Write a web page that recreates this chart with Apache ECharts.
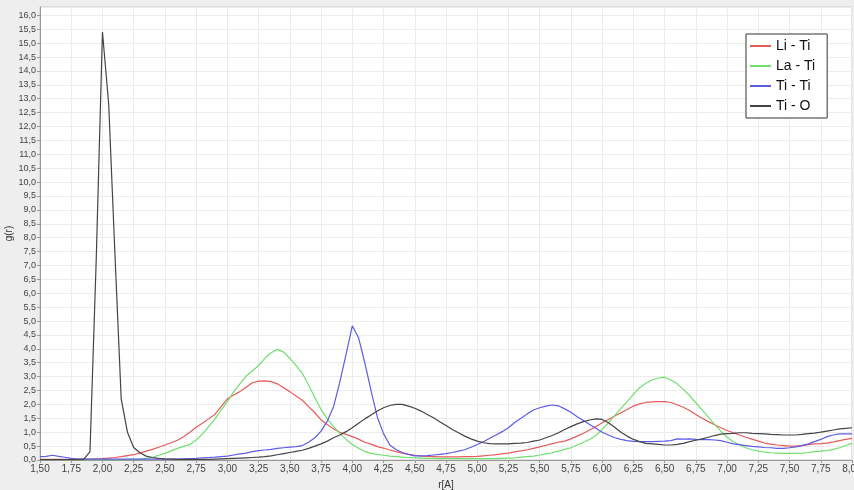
<!DOCTYPE html>
<html>
<head>
<meta charset="utf-8">
<script src="https://cdn.jsdelivr.net/npm/echarts@6/dist/echarts.min.js"></script>
<style>
html,body{margin:0;padding:0;background:#eeeeee;}
#chart{width:854px;height:490px;}
</style>
</head>
<body>
<div id="chart"></div>
<script>
const seriesNames = ['Li - Ti', 'La - Ti', 'Ti - Ti', 'Ti - O'];

const rValues = [
1.50,1.55,1.60,1.65,1.70,1.75,1.80,1.85,1.90,1.95,
2.00,2.05,2.10,2.15,2.20,2.25,2.30,2.35,2.40,2.45,
2.50,2.55,2.60,2.65,2.70,2.75,2.80,2.85,2.90,2.95,
3.00,3.05,3.10,3.15,3.20,3.25,3.30,3.35,3.40,3.45,
3.50,3.55,3.60,3.65,3.70,3.75,3.80,3.85,3.90,3.95,
4.00,4.05,4.10,4.15,4.20,4.25,4.30,4.35,4.40,4.45,
4.50,4.55,4.60,4.65,4.70,4.75,4.80,4.85,4.90,4.95,
5.00,5.05,5.10,5.15,5.20,5.25,5.30,5.35,5.40,5.45,
5.50,5.55,5.60,5.65,5.70,5.75,5.80,5.85,5.90,5.95,
6.00,6.05,6.10,6.15,6.20,6.25,6.30,6.35,6.40,6.45,
6.50,6.55,6.60,6.65,6.70,6.75,6.80,6.85,6.90,6.95,
7.00,7.05,7.10,7.15,7.20,7.25,7.30,7.35,7.40,7.45,
7.50,7.55,7.60,7.65,7.70,7.75,7.80,7.85,7.90,7.95,
8.00];

const liTi = [
0.02,0.02,0.02,0.02,0.02,0.02,0.03,0.03,0.03,0.04,
0.05,0.07,0.09,0.12,0.16,0.19,0.25,0.32,0.38,0.46,
0.54,0.62,0.71,0.84,1.00,1.18,1.32,1.48,1.64,1.92,
2.20,2.34,2.46,2.62,2.78,2.84,2.85,2.82,2.74,2.60,
2.46,2.30,2.15,1.92,1.70,1.44,1.28,1.12,1.00,0.92,
0.84,0.75,0.64,0.57,0.48,0.43,0.36,0.30,0.25,0.20,
0.17,0.14,0.13,0.12,0.11,0.11,0.11,0.11,0.12,0.12,
0.13,0.15,0.17,0.19,0.22,0.25,0.29,0.33,0.37,0.42,
0.47,0.53,0.59,0.64,0.68,0.76,0.86,0.96,1.08,1.20,
1.34,1.46,1.58,1.70,1.82,1.94,2.02,2.07,2.09,2.10,
2.10,2.07,1.99,1.90,1.78,1.64,1.50,1.38,1.27,1.16,
1.06,0.98,0.90,0.82,0.75,0.68,0.61,0.57,0.54,0.52,
0.50,0.50,0.52,0.55,0.58,0.59,0.61,0.65,0.70,0.74,
0.78];

const laTi = [
0.01,0.01,0.01,0.01,0.01,0.01,0.01,0.01,0.01,0.01,
0.01,0.01,0.01,0.01,0.01,0.02,0.03,0.06,0.10,0.17,
0.24,0.33,0.42,0.49,0.56,0.72,0.93,1.20,1.47,1.80,
2.10,2.45,2.74,3.02,3.20,3.40,3.66,3.86,3.98,3.88,
3.66,3.40,3.12,2.70,2.25,1.82,1.48,1.20,0.96,0.74,
0.56,0.42,0.31,0.24,0.20,0.17,0.14,0.12,0.10,0.09,
0.08,0.07,0.06,0.06,0.05,0.05,0.05,0.05,0.05,0.05,
0.05,0.05,0.05,0.05,0.06,0.07,0.08,0.10,0.12,0.14,
0.18,0.22,0.26,0.32,0.38,0.44,0.54,0.64,0.74,0.88,
1.10,1.34,1.60,1.86,2.10,2.36,2.60,2.76,2.88,2.95,
2.98,2.88,2.74,2.54,2.32,2.06,1.80,1.54,1.28,1.04,
0.82,0.66,0.54,0.44,0.37,0.32,0.28,0.26,0.25,0.24,
0.24,0.24,0.25,0.27,0.30,0.32,0.34,0.38,0.44,0.52,
0.60];

const tiTi = [
0.12,0.13,0.17,0.13,0.10,0.06,0.03,0.03,0.03,0.03,
0.03,0.03,0.03,0.03,0.03,0.03,0.03,0.03,0.03,0.03,
0.03,0.03,0.03,0.04,0.05,0.06,0.08,0.09,0.10,0.12,
0.14,0.18,0.22,0.25,0.30,0.34,0.36,0.38,0.42,0.44,
0.46,0.48,0.52,0.64,0.80,1.04,1.40,1.92,2.80,3.80,
4.83,4.40,3.50,2.50,1.55,0.95,0.54,0.38,0.27,0.20,
0.15,0.15,0.16,0.18,0.20,0.23,0.27,0.32,0.37,0.46,
0.56,0.66,0.78,0.90,1.02,1.16,1.35,1.50,1.66,1.80,
1.88,1.94,1.98,1.95,1.84,1.72,1.56,1.42,1.28,1.14,
1.00,0.90,0.80,0.74,0.70,0.67,0.66,0.66,0.66,0.67,
0.68,0.70,0.76,0.75,0.76,0.74,0.73,0.73,0.72,0.70,
0.64,0.58,0.55,0.52,0.49,0.47,0.45,0.44,0.42,0.42,
0.44,0.47,0.52,0.58,0.66,0.74,0.84,0.90,0.94,0.94,
0.94];

const tiO = [
0.01,0.01,0.01,0.01,0.01,0.01,0.01,0.02,0.30,7.20,
15.40,12.80,7.40,2.20,1.00,0.45,0.26,0.14,0.09,0.06,
0.04,0.03,0.02,0.02,0.02,0.02,0.02,0.02,0.03,0.04,
0.05,0.06,0.07,0.08,0.09,0.10,0.12,0.15,0.19,0.23,
0.27,0.31,0.35,0.42,0.50,0.58,0.68,0.80,0.90,1.02,
1.16,1.32,1.48,1.62,1.76,1.88,1.96,2.00,2.00,1.94,
1.86,1.76,1.64,1.52,1.38,1.24,1.10,0.98,0.86,0.76,
0.68,0.62,0.59,0.58,0.58,0.58,0.60,0.61,0.63,0.68,
0.72,0.80,0.88,0.98,1.10,1.20,1.30,1.38,1.44,1.48,
1.46,1.34,1.18,1.00,0.86,0.74,0.66,0.60,0.58,0.56,
0.54,0.54,0.56,0.60,0.66,0.71,0.76,0.82,0.88,0.93,
0.95,0.96,0.98,0.98,0.96,0.95,0.94,0.92,0.91,0.90,
0.90,0.90,0.92,0.95,0.97,1.00,1.04,1.08,1.12,1.14,
1.16];

const seriesValues = [liTi, laTi, tiTi, tiO];
const seriesColors = ['#e85a5a', '#6fe06f', '#5c5ce6', '#444444'];

const chart = echarts.init(document.getElementById('chart'), null, {renderer: 'canvas'});

const series = seriesNames.map((name, k) => ({
  name: name,
  type: 'line',
  showSymbol: false,
  symbol: 'none',
  animation: false,
  lineStyle: {color: seriesColors[k], width: 1.2},
  itemStyle: {color: seriesColors[k]},
  data: rValues.map((r, i) => [r, seriesValues[k][i]])
}));

chart.setOption({
  backgroundColor: '#eeeeee',
  animation: false,
  textStyle: {fontFamily: 'Liberation Sans, Arial, sans-serif'},
  grid: {
    left: 40, right: 2, top: 7, bottom: 30,
    containLabel: false,
    outerBoundsMode: 'none',
    show: true, backgroundColor: '#ffffff', borderColor: '#c8c8c8', borderWidth: 1
  },
  legend: {
    orient: 'vertical',
    left: 746, top: 34,
    data: seriesNames,
    icon: 'rect',
    itemWidth: 21, itemHeight: 2,
    itemGap: 6,
    padding: [5, 12, 5, 4],
    backgroundColor: '#ffffff',
    borderColor: '#333333',
    borderWidth: 1,
    textStyle: {fontSize: 14, color: '#111', fontFamily: 'Liberation Sans, Arial, sans-serif'}
  },
  xAxis: {
    type: 'value',
    min: 1.5, max: 8.0, interval: 0.25,
    name: 'r[A]', nameLocation: 'middle', nameGap: 20, nameMoveOverlap: false,
    nameTextStyle: {fontSize: 10, color: '#333'},
    axisLine: {show: true, lineStyle: {color: '#999'}},
    axisTick: {show: true, length: 3, lineStyle: {color: '#999'}},
    axisLabel: {fontSize: 10, color: '#444', margin: 4, hideOverlap: false,
      formatter: v => v.toFixed(2).replace('.', ',')},
    splitLine: {show: true, lineStyle: {color: '#ececec', width: 1}}
  },
  yAxis: {
    type: 'value',
    min: 0, max: 16.3, interval: 0.5,
    name: 'g(r)', nameLocation: 'middle', nameGap: 26, nameRotate: 90, nameMoveOverlap: false,
    nameTextStyle: {fontSize: 10, color: '#333'},
    axisLine: {show: true, lineStyle: {color: '#999'}},
    axisTick: {show: true, length: 3, lineStyle: {color: '#999'}},
    axisLabel: {fontSize: 9, color: '#444', margin: 4, showMaxLabel: false,
      formatter: v => (Math.abs(v * 2 - Math.round(v * 2)) > 1e-6) ? '' : v.toFixed(1).replace('.', ',')},
    splitLine: {show: true, lineStyle: {color: '#ececec', width: 1}}
  },
  series: series
});
</script>
</body>
</html>
